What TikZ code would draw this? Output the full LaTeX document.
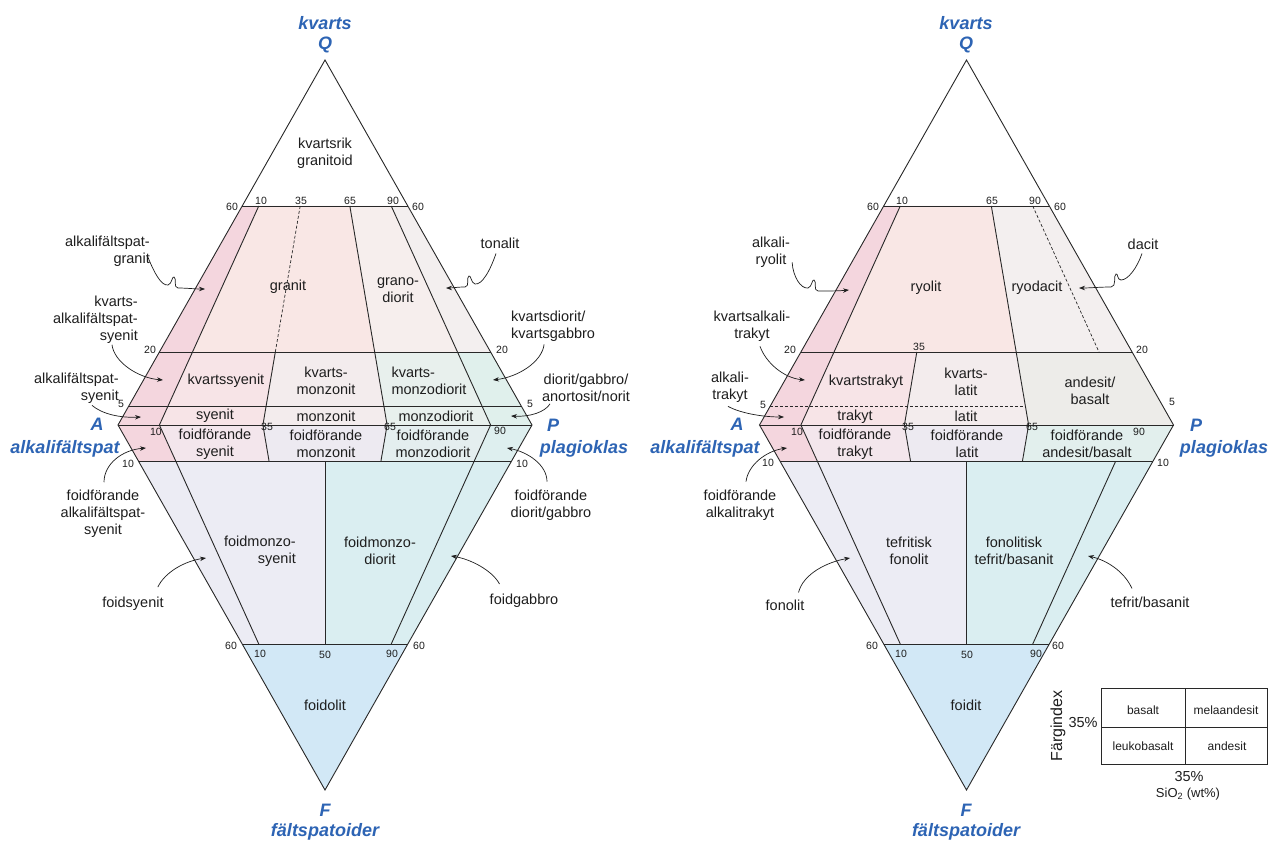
\documentclass[tikz,border=0pt]{standalone}
\usepackage{fontspec}
\setmainfont{Liberation Sans}
\usetikzlibrary{arrows.meta}

% ternary coordinates: q = fraction towards the apex (Q above, F below), r = P/(A+P)
\pgfkeys{/qapf/.is family,/qapf/q/.store in=\qapfQ,/qapf/r/.store in=\qapfR}
\tikzdeclarecoordinatesystem{up}{\pgfkeys{/qapf/.cd,#1}\pgfpointxy{(1-\qapfQ)*(2*\qapfR-1)*207}{-\qapfQ*365}}
\tikzdeclarecoordinatesystem{dn}{\pgfkeys{/qapf/.cd,#1}\pgfpointxy{(1-\qapfQ)*(2*\qapfR-1)*207}{\qapfQ*365}}

% filled band between two apex levels and two ratio lines
\newcommand\upband[5]{\fill[#1] (up cs:q=#2,r=#4) -- (up cs:q=#2,r=#5) -- (up cs:q=#3,r=#5) -- (up cs:q=#3,r=#4) -- cycle;}
\newcommand\dnband[5]{\fill[#1] (dn cs:q=#2,r=#4) -- (dn cs:q=#2,r=#5) -- (dn cs:q=#3,r=#5) -- (dn cs:q=#3,r=#4) -- cycle;}

\newcommand\fieldfont{\fontsize{14.5}{16.8}\selectfont}
\newcommand\numfont{\fontsize{10.5}{12}\selectfont}
\newcommand\cornerfont{\fontsize{18}{20}\selectfont\bfseries\itshape}
\newcommand\tabfont{\fontsize{12}{14}\selectfont}

\definecolor{txt}{RGB}{30,30,30}
\definecolor{linec}{RGB}{40,40,40}
\definecolor{bluec}{RGB}{45,100,180}
\definecolor{cAlk}{RGB}{244,214,222}
\definecolor{cGra}{RGB}{249,231,229}
\definecolor{cGrd}{RGB}{246,238,237}
\definecolor{cTon}{RGB}{243,239,239}
\definecolor{cQsy}{RGB}{247,228,231}
\definecolor{cQmz}{RGB}{243,236,237}
\definecolor{cQmd}{RGB}{232,240,237}
\definecolor{cDio}{RGB}{224,240,236}
\definecolor{cFsy}{RGB}{243,230,236}
\definecolor{cFmz}{RGB}{237,234,241}
\definecolor{cFmd}{RGB}{228,238,239}
\definecolor{cFdi}{RGB}{222,239,239}
\definecolor{cLav}{RGB}{236,236,244}
\definecolor{cCya}{RGB}{218,238,241}
\definecolor{cBlu}{RGB}{210,232,246}
\definecolor{cRyd}{RGB}{243,239,239}
\definecolor{cAnd}{RGB}{237,236,233}
\definecolor{cFan}{RGB}{226,239,237}

\tikzset{
  edge/.style={line width=0.9pt,draw=linec,line join=miter},
  fine dash/.style={edge,line width=0.7pt,dash pattern=on 3pt off 2pt},
  field/.style={font=\fieldfont,text=txt,align=center,inner sep=0pt},
  num/.style={font=\numfont,text=txt,inner sep=0pt},
  corner/.style={font=\cornerfont,text=bluec,inner sep=0pt},
  tabtext/.style={font=\tabfont,text=txt,inner sep=0pt},
  callout/.style={draw=txt,line width=0.7pt,-{Stealth[length=6pt,width=4.5pt]}},
}

\begin{document}
\begin{tikzpicture}[x=1pt,y=-1pt]
\fill[white] (0,0) rectangle (1269,843);
\useasboundingbox (0,0) rectangle (1269,843);

%% ---------------- plutonic diagram ----------------
\begin{scope}[shift={(325,425)}]
  \upband{cAlk}{0.6}{0}{0}{0.1}
  \upband{cGra}{0.6}{0.2}{0.1}{0.65}
  \upband{cGrd}{0.6}{0.2}{0.65}{0.9}
  \upband{cTon}{0.6}{0.2}{0.9}{1}
  \upband{cQsy}{0.2}{0}{0.1}{0.35}
  \upband{cQmz}{0.2}{0}{0.35}{0.65}
  \upband{cQmd}{0.2}{0}{0.65}{0.9}
  \upband{cDio}{0.2}{0}{0.9}{1}
  \dnband{cAlk}{0}{0.1}{0}{0.1}
  \dnband{cFsy}{0}{0.1}{0.1}{0.35}
  \dnband{cFmz}{0}{0.1}{0.35}{0.65}
  \dnband{cFmd}{0}{0.1}{0.65}{0.9}
  \dnband{cFdi}{0}{0.1}{0.9}{1}
  \dnband{cLav}{0.1}{0.6}{0}{0.5}
  \dnband{cCya}{0.1}{0.6}{0.5}{1}
  \dnband{cBlu}{0.6}{1}{0}{1}

  \foreach \q in {0.6,0.2,0.05,0} \draw[edge] (up cs:q=\q,r=0) -- (up cs:q=\q,r=1);
  \foreach \f in {0.1,0.6} \draw[edge] (dn cs:q=\f,r=0) -- (dn cs:q=\f,r=1);
  \draw[edge] (up cs:q=0.6,r=0.1) -- (up cs:q=0,r=0.1) -- (dn cs:q=0.6,r=0.1);
  \draw[edge] (up cs:q=0.6,r=0.9) -- (up cs:q=0,r=0.9) -- (dn cs:q=0.6,r=0.9);
  \draw[fine dash] (up cs:q=0.6,r=0.35) -- (up cs:q=0.2,r=0.35);
  \draw[edge] (up cs:q=0.2,r=0.35) -- (up cs:q=0,r=0.35) -- (dn cs:q=0.1,r=0.35);
  \draw[edge] (up cs:q=0.6,r=0.65) -- (up cs:q=0,r=0.65) -- (dn cs:q=0.1,r=0.65);
  \draw[edge] (dn cs:q=0.1,r=0.5) -- (dn cs:q=0.6,r=0.5);
  \draw[edge] (up cs:q=1,r=0.5) -- (up cs:q=0,r=1) -- (dn cs:q=1,r=0.5) -- (up cs:q=0,r=0) -- cycle;
\end{scope}

% corner names
\node[corner] (lqa) at (325,23) {kvarts};
\node[corner] (lqb) at (325,45) {Q};
\node[corner] (laa) at (97,424) {A};
\node[corner] (lab) at (65,449) {alkalifältspat};
\node[corner] (lpa) at (553,425) {P};
\node[corner] (lpb) at (584,449) {plagioklas};
\node[corner] (lfa) at (325,810) {F};
\node[corner] (lfb) at (325,832) {fältspatoider};

% scale numbers
\node[num] (ln1) at (232,207) {60};
\node[num] (ln2) at (261,201) {10};
\node[num] (ln3) at (301,201) {35};
\node[num] (ln4) at (350,201) {65};
\node[num] (ln5) at (393,201) {90};
\node[num] (ln6) at (418,207) {60};
\node[num] (ln7) at (150,350) {20};
\node[num] (ln8) at (502,350) {20};
\node[num] (ln9) at (121,404) {5};
\node[num] (ln10) at (530,404) {5};
\node[num] (ln11) at (156,432) {10};
\node[num] (ln12) at (267,427) {35};
\node[num] (ln13) at (390,427) {65};
\node[num] (ln14) at (500,431) {90};
\node[num] (ln15) at (128,464) {10};
\node[num] (ln16) at (522,464) {10};
\node[num] (ln17) at (231,646) {60};
\node[num] (ln18) at (260,654) {10};
\node[num] (ln19) at (325,655) {50};
\node[num] (ln20) at (392,654) {90};
\node[num] (ln21) at (419,646) {60};

% field names
\node[field] (lkg) at (325,153) {kvartsrik\\granitoid};
\node[field] (lgr) at (288,287) {granit};
\node[field] (lgd) at (398,290) {grano-\\diorit};
\node[field] (lqs) at (226,381) {kvartssyenit};
\node[field] (lqm) at (326,381) {kvarts-\\monzonit};
\node[field,align=left] (lqd) at (429,381) {kvarts-\\monzodiorit};
\node[field] (lsy) at (215,416) {syenit};
\node[field] (lmz) at (326,416) {monzonit};
\node[field] (lmd) at (436,416) {monzodiorit};
\node[field] (lfs) at (215,444) {foidförande\\syenit};
\node[field] (lfm) at (326,444) {foidförande\\monzonit};
\node[field] (lfd) at (433,444) {foidförande\\monzodiorit};
\node[field,align=right,anchor=east] (lms) at (296,551) {foidmonzo-\\syenit};
\node[field] (lmo) at (380,551) {foidmonzo-\\diorit};
\node[field] (lfo) at (325,705) {foidolit};

% callout labels
\node[field,align=right,anchor=east] (c1) at (150,251) {alkalifältspat-\\granit};
\node[field,align=right,anchor=east] (c2) at (138,320) {kvarts-\\alkalifältspat-\\syenit};
\node[field,align=right,anchor=east] (c3) at (119,388) {alkalifältspat-\\syenit};
\node[field] (c4) at (500,243) {tonalit};
\node[field,align=left,anchor=west] (c5) at (511,326) {kvartsdiorit/\\kvartsgabbro};
\node[field] (c6) at (586,388) {diorit/gabbro/\\anortosit/norit};
\node[field] (c7) at (103,514) {foidförande\\alkalifältspat-\\syenit};
\node[field] (c8) at (551,505) {foidförande\\diorit/gabbro};
\node[field] (c9) at (133,604) {foidsyenit};
\node[field] (c10) at (524,601) {foidgabbro};

\coordinate (t1) at (205,289);
\coordinate (t2) at (163,380);
\coordinate (t3) at (141,417);
\coordinate (t4) at (446,288);
\coordinate (t5) at (493,380);
\coordinate (t6) at (511,416);
\coordinate (t7) at (146,448);
\coordinate (t8) at (507,448);
\coordinate (t9) at (206,558);
\coordinate (t10) at (451,556);

\draw[callout] ([shift={(-2,-9)}]c1.south east) .. controls (154,272) and (161,286) .. (168,285)
  .. controls (172,284) and (172,276) .. (174,277) .. controls (177,278) and (173,288) .. (178,288)
  .. controls (186,288) and (195,289) .. (t1);
\draw[callout] ([shift={(-26,1)}]c2.south east) .. controls (114,362) and (138,378) .. (t2);
\draw[callout] ([shift={(-27,2)}]c3.south east) .. controls (102,414) and (120,418) .. (t3);
\draw[callout] ([shift={(-4,5)}]c4.south) .. controls (490,271) and (482,285) .. (475,284)
  .. controls (471,283) and (471,275) .. (469,276) .. controls (466,277) and (470,287) .. (465,287)
  .. controls (457,287) and (452,288) .. (t4);
\draw[callout] ([shift={(-9,3)}]c5.south) .. controls (542,362) and (518,377) .. (t5);
\draw[callout] ([shift={(-36,2)}]c6.south) .. controls (545,412) and (530,417) .. (t6);
\draw[callout] ([shift={(1,-8)}]c7.north) .. controls (104,464) and (122,450) .. (t7);
\draw[callout] ([shift={(-4,-8)}]c8.north) .. controls (547,465) and (528,452) .. (t8);
\draw[callout] ([shift={(-6,-10)}]c9.north east) .. controls (165,572) and (185,561) .. (t9);
\draw[callout] ([shift={(10,-10)}]c10.north west) .. controls (492,570) and (470,559) .. (t10);

%% ---------------- volcanic diagram ----------------
\begin{scope}[shift={(966.5,425)}]
  \upband{cAlk}{0.6}{0}{0}{0.1}
  \upband{cGra}{0.6}{0.2}{0.1}{0.65}
  \upband{cRyd}{0.6}{0.2}{0.65}{1}
  \upband{cQsy}{0.2}{0}{0.1}{0.35}
  \upband{cQmz}{0.2}{0}{0.35}{0.65}
  \upband{cAnd}{0.2}{0}{0.65}{1}
  \dnband{cAlk}{0}{0.1}{0}{0.1}
  \dnband{cFsy}{0}{0.1}{0.1}{0.35}
  \dnband{cFmz}{0}{0.1}{0.35}{0.65}
  \dnband{cFan}{0}{0.1}{0.65}{1}
  \dnband{cLav}{0.1}{0.6}{0}{0.5}
  \dnband{cCya}{0.1}{0.6}{0.5}{1}
  \dnband{cBlu}{0.6}{1}{0}{1}

  \foreach \q in {0.6,0.2,0} \draw[edge] (up cs:q=\q,r=0) -- (up cs:q=\q,r=1);
  \draw[fine dash] (up cs:q=0.05,r=0) -- (up cs:q=0.05,r=0.65);
  \foreach \f in {0.1,0.6} \draw[edge] (dn cs:q=\f,r=0) -- (dn cs:q=\f,r=1);
  \draw[edge] (up cs:q=0.6,r=0.1) -- (up cs:q=0,r=0.1) -- (dn cs:q=0.6,r=0.1);
  \draw[edge] (up cs:q=0.6,r=0.65) -- (up cs:q=0,r=0.65) -- (dn cs:q=0.1,r=0.65);
  \draw[fine dash] (up cs:q=0.6,r=0.9) -- (up cs:q=0.2,r=0.9);
  \draw[edge] (dn cs:q=0.1,r=0.9) -- (dn cs:q=0.6,r=0.9);
  \draw[edge] (up cs:q=0.2,r=0.35) -- (up cs:q=0,r=0.35) -- (dn cs:q=0.1,r=0.35);
  \draw[edge] (dn cs:q=0.1,r=0.5) -- (dn cs:q=0.6,r=0.5);
  \draw[edge] (up cs:q=1,r=0.5) -- (up cs:q=0,r=1) -- (dn cs:q=1,r=0.5) -- (up cs:q=0,r=0) -- cycle;
\end{scope}

\node[corner] (rqa) at (966,23) {kvarts};
\node[corner] (rqb) at (966,45) {Q};
\node[corner] (raa) at (737,424) {A};
\node[corner] (rab) at (705,449) {alkalifältspat};
\node[corner] (rpa) at (1196,425) {P};
\node[corner] (rpb) at (1224,449) {plagioklas};
\node[corner] (rfa) at (966,810) {F};
\node[corner] (rfb) at (966,832) {fältspatoider};

\node[num] (rn1) at (873,207) {60};
\node[num] (rn2) at (902,201) {10};
\node[num] (rn3) at (992,201) {65};
\node[num] (rn4) at (1035,201) {90};
\node[num] (rn5) at (1060,207) {60};
\node[num] (rn6) at (790,350) {20};
\node[num] (rn7) at (919,347) {35};
\node[num] (rn8) at (1142,350) {20};
\node[num] (rn9) at (763,405) {5};
\node[num] (rn10) at (1172,402) {5};
\node[num] (rn11) at (797,432) {10};
\node[num] (rn12) at (908,427) {35};
\node[num] (rn13) at (1032,427) {65};
\node[num] (rn14) at (1139,432) {90};
\node[num] (rn15) at (768,463) {10};
\node[num] (rn16) at (1163,463) {10};
\node[num] (rn17) at (872,646) {60};
\node[num] (rn18) at (901,654) {10};
\node[num] (rn19) at (967,655) {50};
\node[num] (rn20) at (1036,654) {90};
\node[num] (rn21) at (1058,646) {60};

\node[field] (rry) at (926,288) {ryolit};
\node[field] (rrd) at (1037,288) {ryodacit};
\node[field] (rqt) at (866,382) {kvartstrakyt};
\node[field] (rql) at (966,382) {kvarts-\\latit};
\node[field] (ran) at (1090,391) {andesit/\\basalt};
\node[field] (rtr) at (855,417) {trakyt};
\node[field] (rla) at (966,416) {latit};
\node[field] (rft) at (855,444) {foidförande\\trakyt};
\node[field] (rfl) at (967,444) {foidförande\\latit};
\node[field] (rfa2) at (1087,444) {foidförande\\andesit/basalt};
\node[field] (rtf) at (909,551) {tefritisk\\fonolit};
\node[field] (rft2) at (1014,551) {fonolitisk\\tefrit/basanit};
\node[field] (rfd) at (966,705) {foidit};

\node[field] (d1) at (771,252) {alkali-\\ryolit};
\node[field] (d2) at (1143,244) {dacit};
\node[field] (d3) at (752,326) {kvartsalkali-\\trakyt};
\node[field] (d4) at (730,387) {alkali-\\trakyt};
\node[field] (d5) at (740,505) {foidförande\\alkalitrakyt};
\node[field] (d6) at (785,605) {fonolit};
\node[field] (d7) at (1150,602) {tefrit/basanit};

\coordinate (u1) at (849,290);
\coordinate (u2) at (1079,288);
\coordinate (u3) at (805,380);
\coordinate (u4) at (784,417);
\coordinate (u5) at (787,448);
\coordinate (u6) at (850,558);
\coordinate (u7) at (1088,556);

\draw[callout] ([shift={(2,-5)}]d1.south east) .. controls (793,277) and (801,289) .. (808,288)
  .. controls (812,287) and (812,279) .. (814,280) .. controls (817,281) and (813,291) .. (818,291)
  .. controls (828,291) and (838,291) .. (u1);
\draw[callout] ([shift={(-1,4)}]d2.south) .. controls (1137,268) and (1128,280) .. (1121,280)
  .. controls (1117,280) and (1118,273) .. (1116,274) .. controls (1113,275) and (1117,287) .. (1111,287)
  .. controls (1100,287) and (1090,288) .. (u2);
\draw[callout] ([shift={(8,5)}]d3.south) .. controls (766,363) and (784,378) .. (u3);
\draw[callout] ([shift={(-2,4)}]d4.south) .. controls (740,413) and (762,417) .. (u4);
\draw[callout] ([shift={(6,-8)}]d5.north) .. controls (748,465) and (766,451) .. (u5);
\draw[callout] ([shift={(-6,-7)}]d6.north east) .. controls (803,574) and (827,562) .. (u6);
\draw[callout] ([shift={(-18,-8)}]d7.north) .. controls (1124,571) and (1106,560) .. (u7);

%% ---------------- colour index / SiO2 table ----------------
\draw[line width=0.8pt,draw=linec] (1101,688) rectangle (1267,764);
\draw[line width=0.8pt,draw=linec] (1101,727) -- (1267,727);
\draw[line width=0.8pt,draw=linec] (1185,688) -- (1185,764);
\node[tabtext] (tb1) at (1143,710) {basalt};
\node[tabtext] (tb2) at (1226,710) {melaandesit};
\node[tabtext] (tb3) at (1143,746) {leukobasalt};
\node[tabtext] (tb4) at (1227,746) {andesit};
\node[field,rotate=90,font=\fontsize{16}{18}\selectfont] (tb5) at (1058,726) {Färgindex};
\node[field] (tb6) at (1083,723) {35\%};
\node[field] (tb7) at (1189,777) {35\%};
\node[field,font=\fontsize{13}{15}\selectfont] (tb8) at (1188,794) {SiO\textsubscript{2} (wt\%)};
\end{tikzpicture}
\end{document}
